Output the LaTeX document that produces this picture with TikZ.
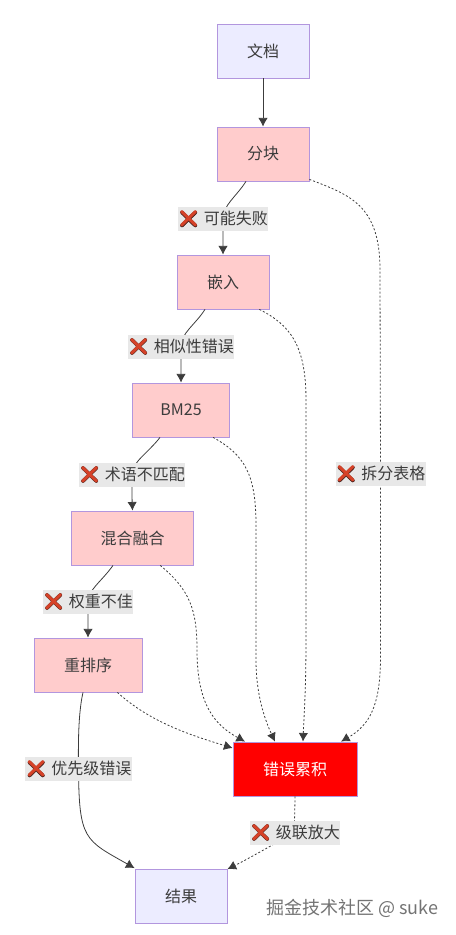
\documentclass[tikz,border=0pt]{standalone}
\usepackage{fontspec}
\setmainfont{Noto Sans CJK SC}
\newfontfamily\emojifont{Noto Emoji}
\newfontfamily\emojibold[FakeBold=2.5]{Noto Emoji}
\usepackage{xcolor}
\definecolor{mmpurple}{RGB}{178,150,222}
\definecolor{mmlilac}{RGB}{236,236,255}
\definecolor{mmpink}{RGB}{255,204,204}
\definecolor{mmline}{RGB}{60,60,60}
\definecolor{mmlabel}{RGB}{232,232,232}
\definecolor{mmcross}{RGB}{214,66,40}
\definecolor{mmcrossdark}{RGB}{70,30,25}
\usetikzlibrary{arrows.meta,calc}
\newcommand{\crossmark}{{\fontsize{12.5}{14}\selectfont\rlap{\emojibold\color{mmcrossdark}❌}{\emojifont\color{mmcross}❌}}\hspace{3.5pt}}
\tikzset{
  endbox/.style={draw=mmpurple, fill=mmlilac, line width=0.6pt, minimum height=40.5pt, align=center, font=\fontsize{12}{14}\selectfont, text=mmline},
  stagebox/.style={endbox, fill=mmpink},
  errorbox/.style={endbox, fill=red, text=white},
  edgelabel/.style={fill=mmlabel, inner sep=0pt, minimum height=18pt, font=\fontsize{12}{14}\selectfont, text=mmline, anchor=center},
  flowline/.style={draw=mmline, line width=0.6pt, -{Latex[length=6.5pt,width=7pt]}},
  errorline/.style={flowline, dash pattern=on 1.5pt off 1.5pt}
}
\begin{document}
\begin{tikzpicture}[x=0.75pt,y=-0.75pt]
  \useasboundingbox (0,0) rectangle (455,935);
  %% Pipeline stages
  \node[endbox, minimum width=69pt]   (doc)    at (263,51)  {文档};
  \node[stagebox, minimum width=69pt] (chunk)  at (263,154) {分块};
  \node[stagebox, minimum width=69pt] (embed)  at (223,282) {嵌入};
  \node[stagebox, minimum width=73pt] (bm)     at (181,410) {BM25};
  \node[stagebox, minimum width=92pt] (fusion) at (132.5,538) {混合融合};
  \node[stagebox, minimum width=81pt] (rerank) at (88,665)  {重排序};
  \node[errorbox, minimum width=93pt] (errors) at (295,769) {错误累积};
  \node[endbox, minimum width=69pt]   (result) at (181,896.5) {结果};

  %% Main flow
  \draw[flowline] (doc) -- (chunk);
  \draw[flowline] ($(chunk.south)+(-17,0)$) .. controls (236,197) and (223,205) .. (223,219)
    node[edgelabel, minimum width=67.5pt] (lab1) {\crossmark 可能失败} .. controls (223,230) and (223,242) .. (embed.north);
  \draw[flowline] ($(embed.south)+(-18,0)$) .. controls (195,325) and (181,333) .. (181,346.5)
    node[edgelabel, minimum width=80pt] (lab2) {\crossmark 相似性错误} .. controls (181,358) and (181,370) .. (bm.north);
  \draw[flowline] ($(bm.south)+(-21,0)$) .. controls (148,453) and (132,462) .. (132,474.5)
    node[edgelabel, minimum width=80pt] (lab3) {\crossmark 术语不匹配} .. controls (132,486) and (132,498) .. (fusion.north);
  \draw[flowline] ($(fusion.south)+(-19.5,0)$) .. controls (102,581) and (88,590) .. (88,601.5)
    node[edgelabel, minimum width=67.5pt] (lab4) {\crossmark 权重不佳} .. controls (88,613) and (88,625) .. (rerank.north);
  \draw[flowline] ($(rerank.south)+(-5,0)$) .. controls (79,710) and (78,735) .. (78.5,769)
    node[edgelabel, minimum width=80pt] (lab5) {\crossmark 优先级错误} .. controls (79,840) and (85,840) .. ($(result.north west)+(0,-1)$);

  %% Error paths
  \draw[errorline] ($(chunk.south east)+(0,-2)$) .. controls (350,195) and (380,205) .. (380,270) -- (380.5,474)
    node[edgelabel, minimum width=67.5pt] (lab6) {\crossmark 拆分表格} -- (380.5,660) .. controls (380,705) and (370,725) .. ($(errors.north)+(46,0)$);
  \draw[errorline] ($(embed.south east)+(-10,0)$) .. controls (290,325) and (306,345) .. (306,400) -- (306,640) .. controls (306,690) and (304,715) .. ($(errors.north)+(8,0)$);
  \draw[errorline] ($(bm.south east)+(-17,0)$) .. controls (245,455) and (256,475) .. (256,525) -- (256,660) .. controls (256,695) and (265,720) .. ($(errors.north)+(-20,0)$);
  \draw[errorline] ($(fusion.south east)+(-34,0)$) .. controls (190,590) and (197,610) .. (197,650) .. controls (197,705) and (215,725) .. ($(errors.north)+(-50,0)$);
  \draw[errorline] ($(rerank.south east)+(-25,0)$) .. controls (150,722) and (190,735) .. ($(errors.west)+(0,-21)$);
  \draw[errorline] (errors.south) .. controls (295,810) and (294,822) .. (295,832.5)
    node[edgelabel, minimum width=68pt] (lab7) {\crossmark 级联放大} .. controls (270,846) and (250,858) .. (result.north east);

  %% Watermark
  \node[font=\fontsize{13.5}{16}\selectfont, text=black!55] (mark) at (352,908) {掘金技术社区 @ suke};
\end{tikzpicture}
\end{document}
